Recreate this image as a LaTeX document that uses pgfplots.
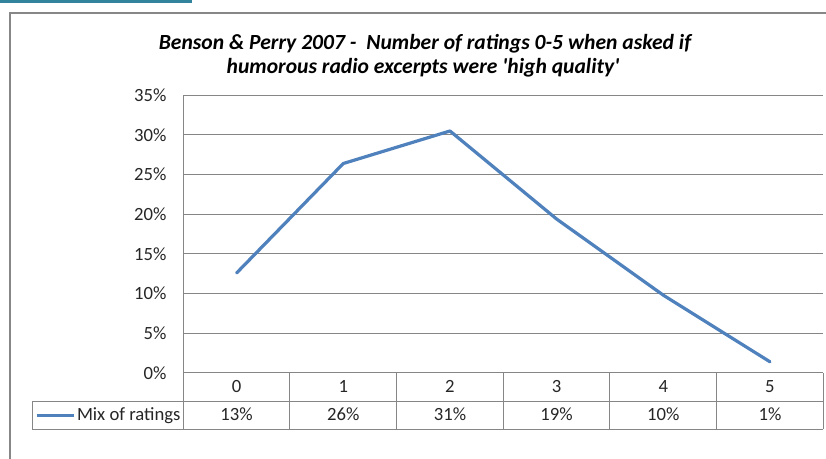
\documentclass[border=0pt]{standalone}
\usepackage{pgfplots}
\pgfplotsset{compat=1.18}
\usepackage{fontspec}
\setmainfont{Carlito}
\definecolor{lineblue}{HTML}{4F81BD}
\definecolor{gridgray}{HTML}{868686}
\definecolor{bordergray}{HTML}{878787}
\definecolor{tealbar}{HTML}{31849B}
\begin{document}
\begin{tikzpicture}[x=0.75pt,y=-0.75pt]
\path[use as bounding box, fill=white] (0,0) rectangle (826,459);
\fill[tealbar] (0,0) rectangle (192,3.5);
\draw[bordergray, line width=1.5pt] (10,459) -- (10,12.7) -- (826,12.7);
\node[anchor=base, inner sep=0pt, font=\fontsize{16.2}{19}\selectfont\bfseries\itshape] at (425,49.3) {Benson \& Perry 2007 -\ \ Number of ratings 0-5 when asked if};
\node[anchor=base, inner sep=0pt, font=\fontsize{16.2}{19}\selectfont\bfseries\itshape] at (423,73.3) {humorous radio excerpts were \textquotesingle high quality\textquotesingle};
\begin{axis}[
  at={(137.475pt,-279.675pt)}, anchor=south west,
  scale only axis, width=480pt, height=208.2pt,
  xmin=-0.5, xmax=5.5, ymin=0, ymax=35,
  axis lines*=left,
  axis line style={gridgray, line width=0.75pt},
  ymajorgrids, major grid style={gridgray, line width=0.75pt},
  major tick length=0pt,
  ytick={0,5,...,35},
  yticklabel={\pgfmathprintnumber{\tick}\%},
  /pgf/number format/assume math mode=true,
  yticklabel style={anchor=east, inner sep=0pt, font=\fontsize{14}{16}\selectfont, text=black!85},
  yticklabel shift=12.45pt,
  xtick={0,1,2,3,4,5},
  xticklabels={0,1,2,3,4,5},
  xticklabel style={anchor=base, inner sep=0pt, font=\fontsize{14}{16}\selectfont, text=black!85},
  xticklabel shift=14.85pt,
  clip=false,
]
\addplot[color=lineblue, line width=2.4pt, line join=round, line cap=round, mark=none]
  coordinates {(0,12.6) (1,26.4) (2,30.5) (3,19.4) (4,9.8) (5,1.4)};
% data table
\draw[gridgray, line width=0.75pt] (axis cs:-1.9156,-3.631) -- (axis cs:5.5,-3.631);
\draw[gridgray, line width=0.75pt] (axis cs:-1.9156,-7.111) -- (axis cs:5.5,-7.111);
\draw[gridgray, line width=0.75pt] (axis cs:-1.9156,-3.631) -- (axis cs:-1.9156,-7.111);
\draw[gridgray, line width=0.75pt] (axis cs:-0.5,0) -- (axis cs:-0.5,-7.111);
\draw[gridgray, line width=0.75pt] (axis cs:0.5,0) -- (axis cs:0.5,-7.111);
\draw[gridgray, line width=0.75pt] (axis cs:1.5,0) -- (axis cs:1.5,-7.111);
\draw[gridgray, line width=0.75pt] (axis cs:2.5,0) -- (axis cs:2.5,-7.111);
\draw[gridgray, line width=0.75pt] (axis cs:3.5,0) -- (axis cs:3.5,-7.111);
\draw[gridgray, line width=0.75pt] (axis cs:4.5,0) -- (axis cs:4.5,-7.111);
\draw[gridgray, line width=0.75pt] (axis cs:5.5,0) -- (axis cs:5.5,-7.111);
\draw[lineblue, line width=2.4pt] (axis cs:-1.874,-5.371) -- (axis cs:-1.525,-5.371);
\node[anchor=base west, inner sep=0pt, font=\fontsize{14}{16}\selectfont, text=black!85] at (axis cs:-1.499,-6.027) {Mix of ratings};
\node[anchor=base, inner sep=0pt, font=\fontsize{14}{16}\selectfont, text=black!85] at (axis cs:0,-6.027) {13\%};
\node[anchor=base, inner sep=0pt, font=\fontsize{14}{16}\selectfont, text=black!85] at (axis cs:1,-6.027) {26\%};
\node[anchor=base, inner sep=0pt, font=\fontsize{14}{16}\selectfont, text=black!85] at (axis cs:2,-6.027) {31\%};
\node[anchor=base, inner sep=0pt, font=\fontsize{14}{16}\selectfont, text=black!85] at (axis cs:3,-6.027) {19\%};
\node[anchor=base, inner sep=0pt, font=\fontsize{14}{16}\selectfont, text=black!85] at (axis cs:4,-6.027) {10\%};
\node[anchor=base, inner sep=0pt, font=\fontsize{14}{16}\selectfont, text=black!85] at (axis cs:5,-6.027) {1\%};
\end{axis}
\end{tikzpicture}
\end{document}
